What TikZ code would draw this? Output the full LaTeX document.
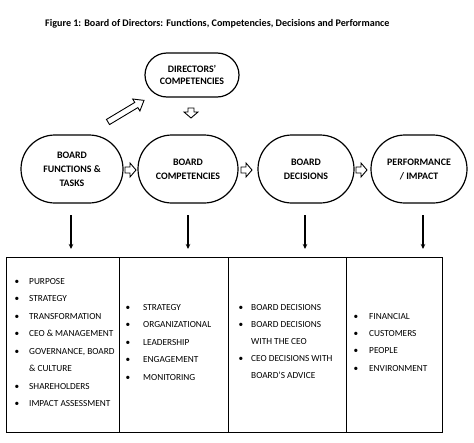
\documentclass[tikz,border=0pt]{standalone}
\usepackage{fontspec}
\setmainfont{Carlito}
\usetikzlibrary{shapes.misc,arrows.meta}
\begin{document}
\begin{tikzpicture}[x=1pt,y=-1pt,
  stad/.style={rounded rectangle, draw, line width=1.2pt, inner sep=0pt, align=center},
  stadfont/.style={font=\fontsize{9.9}{14}\selectfont\bfseries},
  hollow/.style={draw, line width=0.9pt, fill=white, line join=miter},
  item/.style={anchor=base west, inner sep=0pt, font=\fontsize{9.3}{11}\selectfont},
  bul/.style={anchor=base, inner sep=0pt, font=\fontsize{9.3}{11}\selectfont},
  col/.style={draw, line width=1.1pt, anchor=north west, inner sep=0pt},
  down/.style={line width=1.3pt, -{Stealth[length=5pt,width=4.5pt]}}
]
\useasboundingbox (0,0) rectangle (474,442);
\fill[white] (0,0) rectangle (474,442);

% title
\node[anchor=base west, inner sep=0pt, font=\fontsize{10.1}{12}\selectfont\bfseries] (title) at (45,26)
  {Figure 1: Board of Directors: Functions, Competencies, Decisions and Performance};

% stadium nodes
\node[stad, minimum width=94pt, minimum height=44pt, font=\fontsize{9.9}{11.5}\selectfont\bfseries] (dc) at (192,75) {DIRECTORS’\\COMPETENCIES};
\node[stad, stadfont, minimum width=102pt, minimum height=68pt] (f1) at (72,169) {BOARD\\FUNCTIONS \&\\TASKS};
\node[stad, stadfont, minimum width=100pt, minimum height=68pt] (f2) at (188,169) {BOARD\\COMPETENCIES};
\node[stad, stadfont, minimum width=96pt, minimum height=68pt] (f3) at (306,169) {BOARD\\DECISIONS};
\node[stad, stadfont, minimum width=96pt, minimum height=68pt] (f4) at (419,169) {PERFORMANCE\\/ IMPACT};

% hollow arrows
\draw[hollow, shift={(108,122)}, rotate=31] (0,-3) -- (33,-3) -- (33,-7) -- (42,0) -- (33,7) -- (33,3) -- (0,3) -- cycle;
\draw[hollow, shift={(191,108)}, rotate=-90] (0,-3) -- (4,-3) -- (4,-7) -- (10,0) -- (4,7) -- (4,3) -- (0,3) -- cycle;
\foreach \xx in {125,241,356}{
  \draw[hollow, shift={(\xx,170)}] (0,-3) -- (5,-3) -- (5,-7) -- (11,0) -- (5,7) -- (5,3) -- (0,3) -- cycle;
}

% down arrows
\coordinate (d1s) at (71,215);  \coordinate (d1e) at (71,249);
\coordinate (d2s) at (188,215); \coordinate (d2e) at (188,249);
\coordinate (d3s) at (305,215); \coordinate (d3e) at (305,249);
\coordinate (d4s) at (423,215); \coordinate (d4e) at (423,249);
\draw[down] (d1s) -- (d1e);
\draw[down] (d2s) -- (d2e);
\draw[down] (d3s) -- (d3e);
\draw[down] (d4s) -- (d4e);

% table columns
\node[col, minimum width=113pt, minimum height=175pt] (c1) at (6,257) {};
\node[col, minimum width=109pt, minimum height=175pt] (c2) at (119,257) {};
\node[col, minimum width=118pt, minimum height=175pt] (c3) at (228,257) {};
\node[col, minimum width=96pt, minimum height=175pt] (c4) at (346,257) {};

% column 1
\foreach \t/\yy [count=\i] in {PURPOSE/281, STRATEGY/298.5, TRANSFORMATION/316, CEO \& MANAGEMENT/333.5, {GOVERNANCE, BOARD}/351, SHAREHOLDERS/386, IMPACT ASSESSMENT/403.5}{
  \node[bul] (b1-\i) at (17,\yy+3) {•};
  \node[item] (t1-\i) at (29,\yy+3) {\t};
}
\node[item] (t1-x) at (29,368.5+3) {\& CULTURE};

% column 2
\foreach \t/\yy [count=\i] in {STRATEGY/307, ORGANIZATIONAL/324.5, LEADERSHIP/342, ENGAGEMENT/359.5, MONITORING/377}{
  \node[bul] (b2-\i) at (128,\yy+3) {•};
  \node[item] (t2-\i) at (143,\yy+3) {\t};
}

% column 3
\foreach \t/\yy [count=\i] in {BOARD DECISIONS/307.5, BOARD DECISIONS/324.5, CEO DECISIONS WITH/358}{
  \node[bul] (b3-\i) at (241,\yy+3) {•};
  \node[item] (t3-\i) at (251,\yy+3) {\t};
}
\node[item] (t3-x) at (251,341+3) {WITH THE CEO};
\node[item] (t3-y) at (251,375+3) {BOARD’S ADVICE};

% column 4
\foreach \t/\yy [count=\i] in {FINANCIAL/316, CUSTOMERS/333, PEOPLE/350.5, ENVIRONMENT/368}{
  \node[bul] (b4-\i) at (356,\yy+3) {•};
  \node[item] (t4-\i) at (369,\yy+3) {\t};
}
\end{tikzpicture}
\end{document}
